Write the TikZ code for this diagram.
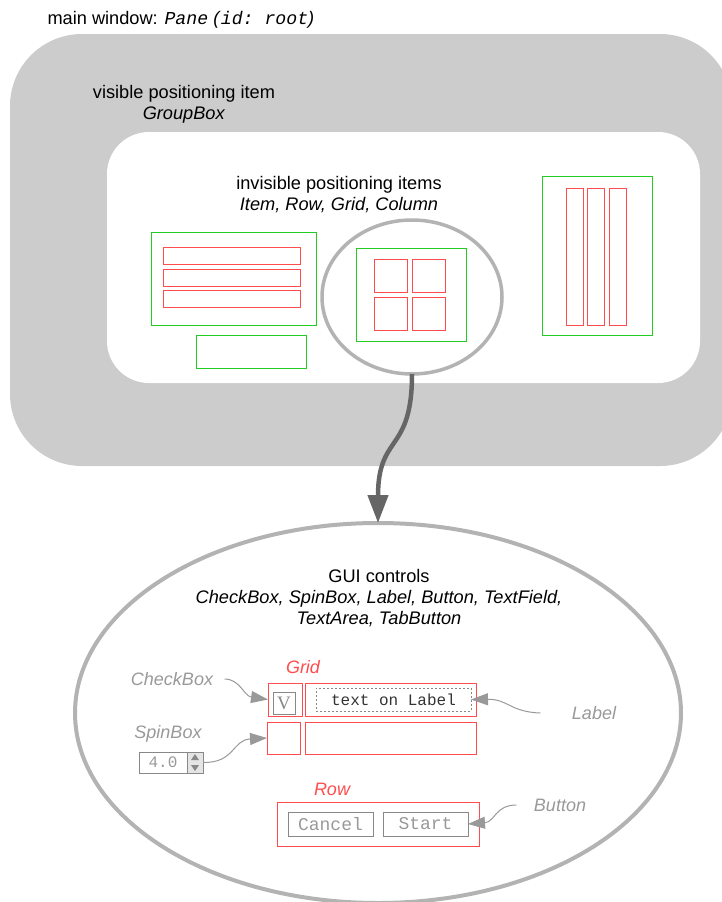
\documentclass[tikz,border=0pt]{standalone}
\usepackage{fontspec}
\setmainfont{Liberation Sans}
\setmonofont{Liberation Mono}
\newfontfamily\glyphfont{Liberation Serif}
\usetikzlibrary{arrows.meta,shapes.geometric}
\definecolor{panegray}{HTML}{CCCCCC}
\definecolor{lensgray}{HTML}{B3B3B3}
\definecolor{flowgray}{HTML}{666666}
\definecolor{hintgray}{HTML}{999999}
\definecolor{ctrlgray}{HTML}{888888}
\definecolor{posgreen}{HTML}{22CC22}
\definecolor{cellred}{HTML}{FF4D4D}
\tikzset{pane/.style={fill=panegray,rounded corners=72pt,inner sep=0pt},gbox/.style={fill=white,rounded corners=42pt,inner sep=0pt},caption/.style={align=center},posbox/.style={draw=posgreen,line width=1pt,inner sep=0pt,outer sep=0pt},cellbox/.style={draw=cellred,line width=1pt,inner sep=0pt,outer sep=0pt},ctrlbox/.style={draw=ctrlgray,line width=1pt,inner sep=0pt,outer sep=0pt,text=hintgray},lens/.style={ellipse,draw=lensgray,inner sep=0pt,outer sep=0pt},hint/.style={text=hintgray,font=\fontsize{18}{21}\selectfont\itshape},celltitle/.style={text=cellred,font=\fontsize{18}{21}\selectfont\itshape},hintarr/.style={-{Triangle[length=17pt,width=12pt]},draw=hintgray,line width=1pt},flowarr/.style={-{Triangle[length=28pt,width=20pt]},draw=flowgray,line width=4.5pt}}

\begin{document}
\begin{tikzpicture}[x=1pt,y=-1pt,font=\fontsize{18.2}{21}\selectfont]
\useasboundingbox (0,0) rectangle (721,902);
\node[anchor=base west] (title) at (44,24) {main window: {\ttfamily\itshape Pane} \textit{(}{\ttfamily\itshape id: root}\textit{)}};
\node[pane,minimum width=722pt,minimum height=432pt] (pane) at (371,250) {};
\node[gbox,minimum width=593pt,minimum height=251pt] (gbox) at (403.5,257.5) {};
\node[caption] (gblabel) at (184,104) {visible positioning item\\\textit{GroupBox}};
\node[caption] (poslabel) at (339,195) {invisible positioning items\\\textit{Item, Row, Grid, Column}};
\node[posbox,minimum width=165pt,minimum height=93pt] (rows) at (233.5,278.5) {};
\foreach \y [count=\i] in {255.5,277.5,298.5} \node[cellbox,minimum width=137pt,minimum height=17pt] (rowbar\i) at (232,\y) {};
\node[posbox,minimum width=110pt,minimum height=33pt] (item) at (251,351.5) {};
\node[posbox,minimum width=110pt,minimum height=93pt] (grid) at (411,294.5) {};
\foreach \x in {390.5,428.5} \foreach \y in {275.5,313.5} \node[cellbox,minimum width=33pt,minimum height=33pt] at (\x,\y) {};
\node[posbox,minimum width=110pt,minimum height=159pt] (column) at (597,255.5) {};
\foreach \x [count=\i] in {574.5,596,617.5} \node[cellbox,minimum width=17pt,minimum height=137pt] (colbar\i) at (\x,256.5) {};
\node[lens,line width=3.5pt,minimum width=180pt,minimum height=154pt] (zoom) at (412,297) {};
\node[lens,line width=4pt,minimum width=606pt,minimum height=380pt] (gui) at (378,713) {};
\draw[flowarr] (zoom.south) .. controls +(0,80) and +(0,-90) .. (gui.north);
\node[caption] (guilabel) at (379,598) {GUI controls\\\textit{CheckBox, SpinBox, Label, Button, TextField,}\\\textit{TextArea, TabButton}};
\node[celltitle] (gridtitle) at (303,667) {Grid};
\node[cellbox,minimum width=34pt,minimum height=33pt] (checkcell) at (285,699.5) {};
\node[cellbox,minimum width=171pt,minimum height=33pt] (labelcell) at (390.5,699.5) {};
\node[cellbox,minimum width=33pt,minimum height=32pt] (spincell) at (283.5,738) {};
\node[cellbox,minimum width=171pt,minimum height=32pt] (fieldcell) at (390.5,738) {};
\node[ctrlbox,minimum width=22pt,minimum height=22pt,font=\glyphfont\fontsize{19}{21}\selectfont,text=ctrlgray] (checkmark) at (284,703) {V};
\node[draw=ctrlgray,dash pattern=on 2pt off 2pt,line width=0.8pt,inner sep=0pt,outer sep=0pt,minimum width=155pt,minimum height=23pt,font=\ttfamily\fontsize{16}{18}\selectfont,text=black!80] (labeltext) at (393.5,699.5) {text on Label};
\node[ctrlbox,minimum width=48pt,minimum height=21pt,font=\ttfamily\fontsize{16}{18}\selectfont] (spinval) at (163,762.5) {4.0};
\node[ctrlbox,fill=black!10,minimum width=16pt,minimum height=21pt] (spinbtn) at (195,762.5) {};
\fill[ctrlgray] (191,760) -- (199,760) -- (195,754) -- cycle (191,765) -- (199,765) -- (195,771) -- cycle;
\node[celltitle] (rowtitle) at (332,789) {Row};
\node[cellbox,minimum width=202pt,minimum height=44pt] (rowcell) at (378,824) {};
\node[ctrlbox,minimum width=85pt,minimum height=24pt,font=\ttfamily\fontsize{18}{20}\selectfont] (cancelbtn) at (330.5,824) {Cancel};
\node[ctrlbox,minimum width=85pt,minimum height=24pt,font=\ttfamily\fontsize{18}{20}\selectfont] (startbtn) at (425.5,824) {Start};
\node[hint] (cbhint) at (172,679) {CheckBox};
\node[hint] (sbhint) at (168,734) {SpinBox};
\node[hint] (lbhint) at (594,713) {Label};
\node[hint] (bthint) at (560,805) {Button};
\draw[hintarr] ([xshift=8pt]cbhint.east) .. controls (240,679) and (244,696) .. (checkcell.west);
\draw[hintarr] (spinbtn.east) .. controls (235,763) and (232,740) .. (spincell.west);
\draw[hintarr] ([xshift=-28pt]lbhint.west) .. controls (510,712) and (508,699) .. (labeltext.east);
\draw[hintarr] ([xshift=-14pt]bthint.west) .. controls (495,805) and (495,822) .. (startbtn.east);
\end{tikzpicture}
\end{document}
